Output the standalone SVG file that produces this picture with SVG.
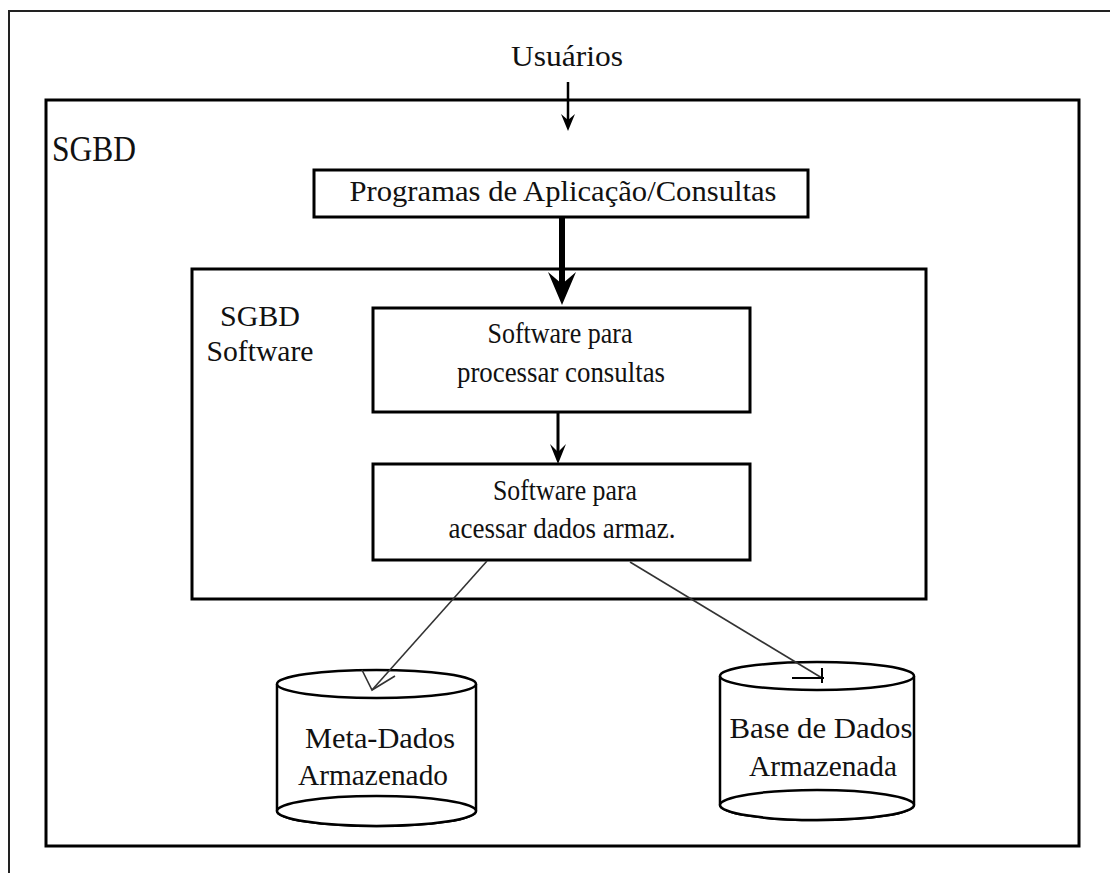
<svg xmlns="http://www.w3.org/2000/svg" width="1110" height="873" viewBox="0 0 1110 873">
  <defs>
    <style>
      .box { fill: #fff; stroke: #000; stroke-width: 3; }
      .thin { stroke: #333; stroke-width: 1.6; fill: none; }
      .cyl { fill: #fff; stroke: #000; stroke-width: 2.5; }
    </style>
  </defs>
  <rect width="1110" height="873" fill="#fff"/>

  <!-- page frame -->
  <path d="M9,873 V11 H1110" fill="none" stroke="#222" stroke-width="2"/>

  <g font-family="Liberation Serif, Tinos, Times New Roman, DejaVu Serif, serif" fill="#111">
    <!-- outer DBMS boundary -->
    <g id="sgbd">
      <rect class="box" x="46" y="100" width="1033" height="746"/>
      <text x="52" y="161" font-size="36" textLength="84" lengthAdjust="spacingAndGlyphs">SGBD</text>
    </g>

    <g font-size="30" text-anchor="middle">
      <g id="usuarios">
        <text x="567" y="66" textLength="112" lengthAdjust="spacingAndGlyphs">Usuários</text>
      </g>

      <g id="programas">
        <rect class="box" x="314" y="170" width="494" height="47"/>
        <text x="563" y="201" textLength="427" lengthAdjust="spacingAndGlyphs">Programas de Aplicação/Consultas</text>
      </g>

      <g id="sgbd-software">
        <rect class="box" x="192" y="269" width="734" height="330"/>
        <text x="260" y="326" textLength="80" lengthAdjust="spacingAndGlyphs">SGBD</text>
        <text x="260" y="361" textLength="107" lengthAdjust="spacingAndGlyphs">Software</text>
      </g>

      <g id="processar">
        <rect class="box" x="373" y="308" width="377" height="104"/>
        <text x="560" y="343" textLength="145" lengthAdjust="spacingAndGlyphs">Software para</text>
        <text x="561" y="382" textLength="208" lengthAdjust="spacingAndGlyphs">processar consultas</text>
      </g>

      <g id="acessar">
        <rect class="box" x="373" y="464" width="377" height="96"/>
        <text x="565" y="500" textLength="144" lengthAdjust="spacingAndGlyphs">Software para</text>
        <text x="562" y="538" textLength="227" lengthAdjust="spacingAndGlyphs">acessar dados armaz.</text>
      </g>

      <g id="meta-dados">
        <path class="cyl" d="M277,684 V811 A99.5,15 0 0 0 476,811 V684"/>
        <ellipse class="cyl" cx="376.5" cy="811" rx="99.5" ry="15"/>
        <ellipse class="cyl" cx="376.5" cy="684" rx="99.5" ry="14"/>
        <text x="380" y="748" textLength="150" lengthAdjust="spacingAndGlyphs">Meta-Dados</text>
        <text x="373" y="785" textLength="150" lengthAdjust="spacingAndGlyphs">Armazenado</text>
      </g>

      <g id="base-dados">
        <path class="cyl" d="M720,676 V805 A97,15 0 0 0 914,805 V676"/>
        <ellipse class="cyl" cx="817" cy="805" rx="97" ry="15"/>
        <ellipse class="cyl" cx="817" cy="676" rx="97" ry="14"/>
        <text x="821" y="738" textLength="183" lengthAdjust="spacingAndGlyphs">Base de Dados</text>
        <text x="823" y="776" textLength="148" lengthAdjust="spacingAndGlyphs">Armazenada</text>
      </g>
    </g>
  </g>

  <g id="connectors">
    <!-- users to application programs -->
    <line x1="568" y1="82" x2="568" y2="122" stroke="#000" stroke-width="2.5"/>
    <polygon points="561,114 568,131 575,114 568,120" fill="#000"/>
    <!-- programs to query processor (heavy) -->
    <line x1="562" y1="217" x2="562" y2="290" stroke="#000" stroke-width="6"/>
    <polygon points="548,272 562,305 576,272 562,284" fill="#000"/>
    <!-- query processor to data access -->
    <line x1="558" y1="412" x2="558" y2="455" stroke="#000" stroke-width="3"/>
    <polygon points="550,444 558,464 566,444 558,452" fill="#000"/>
    <!-- data access to meta-data -->
    <line class="thin" x1="487" y1="561" x2="372" y2="690"/>
    <path class="thin" d="M362,670 L372,690 L395,676"/>
    <!-- data access to stored database -->
    <line class="thin" x1="630" y1="562" x2="822" y2="678"/>
    <path d="M792,678 H824 M822,668 V683" stroke="#000" stroke-width="2" fill="none"/>
  </g>
</svg>
